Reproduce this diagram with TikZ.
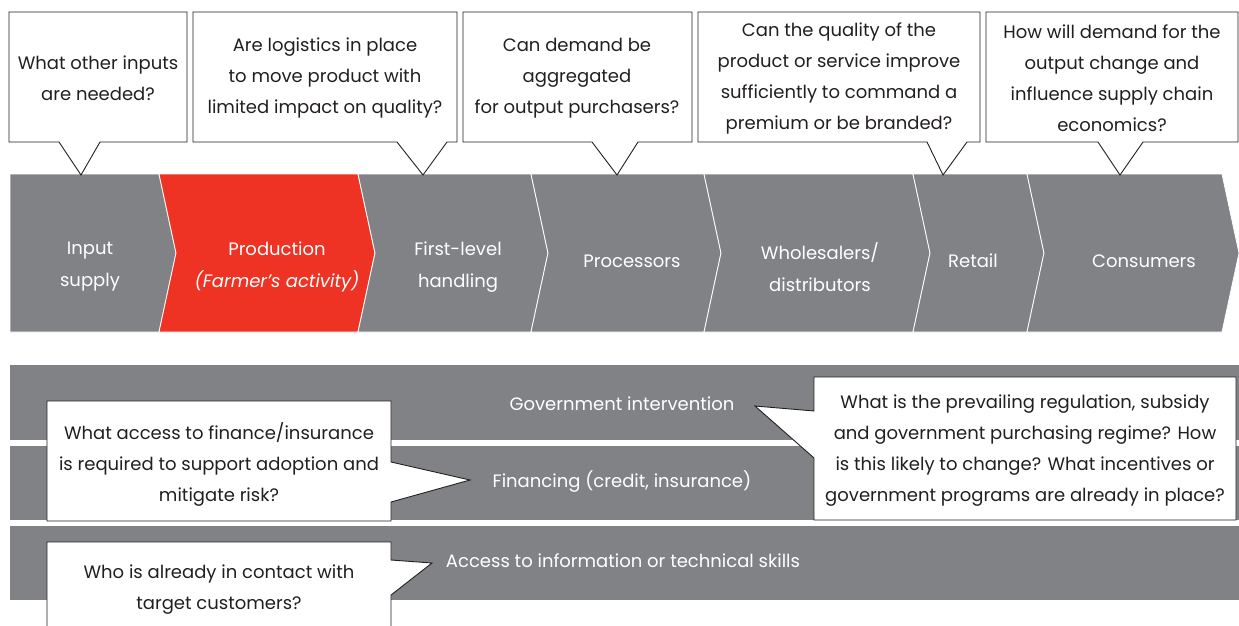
\documentclass[tikz,border=0pt]{standalone}
\usepackage{fontspec}
\setmainfont{Poppins}
\definecolor{chgray}{RGB}{128,130,133}
\definecolor{chred}{RGB}{238,50,36}
\definecolor{lineblk}{RGB}{35,31,32}
\newcommand\qfont{\fontsize{18}{31}\selectfont}
\newcommand\cfont{\fontsize{18}{32}\selectfont}
\tikzset{
  seg/.style={fill=chgray, draw=white, line width=0.8pt, line join=miter},
  redseg/.style={fill=chred, draw=white, line width=0.8pt, line join=miter},
  band/.style={fill=chgray, draw=none},
  lbl/.style={text=white, align=center, font=\cfont, inner sep=0pt},
  blbl/.style={text=white, align=center, font=\qfont, inner sep=0pt},
  qtext/.style={text=lineblk, align=center, font=\qfont, inner sep=0pt},
  callout/.style={fill=white, draw=lineblk, line width=0.9pt, line join=miter},
}
\begin{document}
\begin{tikzpicture}[x=1pt,y=-1pt]
\useasboundingbox (0,0) rectangle (1239,625);
\clip (0,0) rectangle (1239,625);
% chevron band
\draw[seg] (10,174) -- (159,174) -- (176,253) -- (159,332) -- (10,332) -- cycle;
\draw[redseg] (159,174) -- (358,174) -- (375,253) -- (358,332) -- (159,332) -- (176,253) -- cycle;
\draw[seg] (358,174) -- (531,174) -- (548,253) -- (531,332) -- (358,332) -- (375,253) -- cycle;
\draw[seg] (531,174) -- (704,174) -- (721,253) -- (704,332) -- (531,332) -- (548,253) -- cycle;
\draw[seg] (704,174) -- (913,174) -- (930,253) -- (913,332) -- (704,332) -- (721,253) -- cycle;
\draw[seg] (913,174) -- (1027,174) -- (1044,253) -- (1027,332) -- (913,332) -- (930,253) -- cycle;
\draw[seg] (1027,174) -- (1222,174) -- (1239,253) -- (1222,332) -- (1027,332) -- (1044,253) -- cycle;
\node[lbl] (input) at (90,267) {Input\\supply};
\node[lbl] (prod) at (277,267) {Production\\\itshape(Farmer’s activity)};
\node[lbl] (first) at (458,267) {First-level\\handling};
\node[lbl] (proc) at (632,261) {Processors};
\node[lbl] (whole) at (820,267) {Wholesalers/\\distributors};
\node[lbl] (retail) at (973,261) {Retail};
\node[lbl] (cons) at (1144,261) {Consumers};
% top callouts
\draw[callout] (9,12) -- (187,12) -- (187,142) -- (100,142) -- (81,175) -- (59,142) -- (9,142) -- cycle;
\draw[callout] (193,12) -- (457,12) -- (457,142) -- (447,142) -- (423,175) -- (397,142) -- (193,142) -- cycle;
\draw[callout] (463,12) -- (692,12) -- (692,142) -- (638,142) -- (617,175) -- (592,142) -- (463,142) -- cycle;
\draw[callout] (698,12) -- (980,12) -- (980,142) -- (967,142) -- (943,175) -- (927,142) -- (698,142) -- cycle;
\draw[callout] (986,12) -- (1238,12) -- (1238,142) -- (1143,142) -- (1120,175) -- (1098,142) -- (986,142) -- cycle;
\node[qtext] (q1) at (98,78) {What other inputs\\are needed?};
\node[qtext] (q2) at (325,78) {Are logistics in place\\to move product with\\limited impact on quality?};
\node[qtext] (q3) at (577,78) {Can demand be\\aggregated\\for output purchasers?};
\node[qtext] (q4) at (839,78) {Can the quality of the\\product or service improve\\sufficiently to command a\\premium or be branded?};
\node[qtext] (q5) at (1112,78) {How will demand for the\\output change and\\influence supply chain\\economics?};
% bands
\fill[band] (10,365) rectangle (1239,440);
\fill[band] (10,446) rectangle (1239,520);
\fill[band] (10,526) rectangle (1239,600);
\node[blbl] (gov) at (622,404) {Government intervention};
\node[blbl] (fin) at (622,482) {Financing (credit, insurance)};
\node[blbl] (acc) at (623,561) {Access to information or technical skills};
% bottom callouts
\draw[callout] (47,401) -- (391,401) -- (391,462) -- (470,480) -- (391,502) -- (391,521) -- (47,521) -- cycle;
\draw[callout] (47,542) -- (391,542) -- (391,560) -- (432,563) -- (391,595) -- (391,640) -- (47,640) -- cycle;
\draw[callout] (814,377) -- (1236,377) -- (1236,520) -- (814,520) -- (814,458) -- (755,406) -- (814,411) -- cycle;
\node[qtext] (q6) at (219,464) {What access to finance/insurance\\is required to support adoption and\\mitigate risk?};
\node[qtext] (q7) at (219,590) {Who is already in contact with\\target customers?};
\node[qtext] (q8) at (1025,451) {What is the prevailing regulation, subsidy\\and government purchasing regime? How\\is this likely to change? What incentives or\\government programs are already in place?};
\end{tikzpicture}
\end{document}
